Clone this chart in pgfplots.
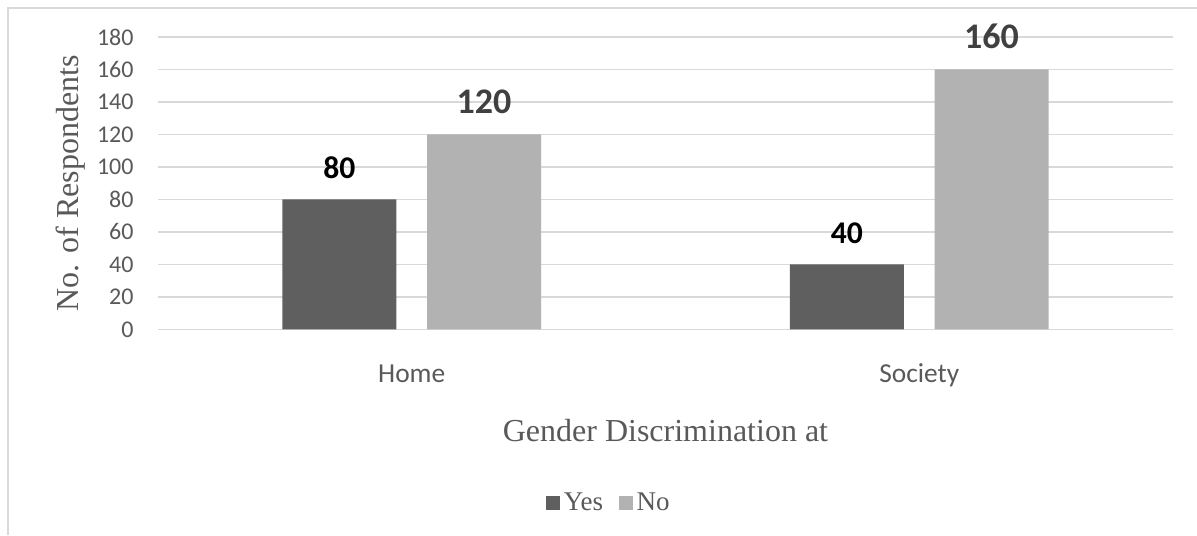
\documentclass[border=0pt]{standalone}
\usepackage{fontspec}
\setmainfont{Liberation Serif}
\newfontfamily\carlito{Carlito}
\usepackage{pgfplots}
\pgfplotsset{compat=1.18}
\definecolor{yescol}{HTML}{5F5F5F}
\definecolor{nocol}{HTML}{B2B2B2}
\definecolor{gridcol}{HTML}{D9D9D9}
\definecolor{txtcol}{HTML}{595959}
\definecolor{lblno}{HTML}{404040}

\begin{document}
\begin{tikzpicture}
\useasboundingbox (0,0) rectangle (598.5pt,-267.5pt);
% chart frame (top and left edges)
\draw[gridcol, line width=1pt] (4.15pt,-267.5pt) -- (4.15pt,-4.15pt) -- (598.5pt,-4.15pt);
\begin{axis}[
  at={(79pt,-18.5pt)}, anchor=north west,
  width=507.5pt, height=146.15pt, scale only axis,
  ybar=15.3pt, bar width=57pt,
  xmin=-0.5, xmax=1.5, ymin=0, ymax=180,
  xtick={0,1}, xticklabels={Home,Society},
  ytick={0,20,...,180},
  ymajorgrids, grid style={gridcol, line width=0.75pt},
  axis line style={draw=none},
  major tick length=0pt,
  /pgf/number format/assume math mode=true,
  yticklabel style={font=\carlito\fontsize{12}{14}\selectfont, text=txtcol, anchor=east, xshift=-8.7pt},
  xticklabel style={font=\carlito\fontsize{13.7}{16}\selectfont, text=txtcol, anchor=base, yshift=-26.5pt},
  xlabel={Gender Discrimination at},
  ylabel={No. of Respondents},
  xlabel style={at={(axis description cs:0.5,-0.3832)}, anchor=base, font=\fontsize{16}{19}\selectfont, text=txtcol},
  ylabel style={at={(axis description cs:-0.0788,0.5)}, anchor=base, rotate=0, font=\fontsize{16}{19}\selectfont, text=txtcol},
  legend style={at={(axis description cs:0.4453,-0.594)}, anchor=center, draw=none, fill=none,
    legend columns=2, font=\fontsize{13.5}{15}\selectfont, text=txtcol,
    /tikz/every even column/.append style={column sep=6pt}},
  every axis plot post/.append style={legend image code/.code={\fill[##1] (0pt,-3.4pt) rectangle (6.8pt,3.4pt);}},
  nodes near coords,
]
\addplot[fill=yescol, draw=none,
  every node near coord/.append style={font=\carlito\bfseries\fontsize{15.8}{18}\selectfont, text=black, inner sep=0pt, anchor=south, yshift=10pt}]
  coordinates {(0,80) (1,40)};
\addplot[fill=nocol, draw=none,
  every node near coord/.append style={font=\carlito\bfseries\fontsize{18}{21}\selectfont, text=lblno, inner sep=0pt, anchor=south, yshift=10pt}]
  coordinates {(0,120) (1,160)};
\legend{Yes,No}
\end{axis}
\end{tikzpicture}
\end{document}
